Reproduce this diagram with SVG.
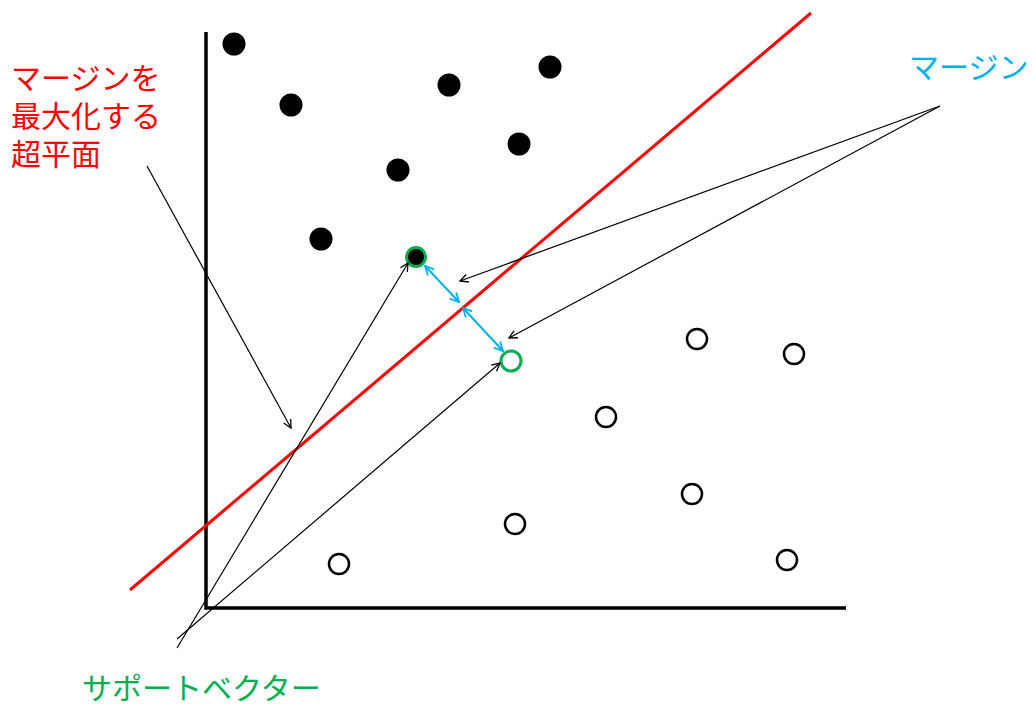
<svg xmlns="http://www.w3.org/2000/svg" width="1032" height="706" viewBox="0 0 1032 706">
<defs>
<marker id="ah" viewBox="0 0 10 10" refX="9" refY="5" markerWidth="10" markerHeight="10" markerUnits="userSpaceOnUse" orient="auto"><path d="M1,1 L9,5 L1,9" fill="none" stroke="#000" stroke-width="1.3"/></marker>
<marker id="bh" viewBox="0 0 10 10" refX="9" refY="5" markerWidth="11" markerHeight="11" markerUnits="userSpaceOnUse" orient="auto-start-reverse"><path d="M1,1 L9,5 L1,9" fill="none" stroke="#00B0F0" stroke-width="1.6"/></marker>
</defs>
<style>
.t{font-family:"Noto Sans CJK JP","Noto Sans",sans-serif;font-size:30px}
.f{fill:#000;stroke:#000;stroke-width:2}
.o{fill:#fff;stroke:#000;stroke-width:2.5}
.c{stroke:#000;stroke-width:1.2;fill:none;marker-end:url(#ah)}
.b{stroke:#00B0F0;stroke-width:2;fill:none;marker-start:url(#bh);marker-end:url(#bh)}
</style>
<rect width="1032" height="706" fill="#fff"/>
<g id="axes" stroke="#000" stroke-width="3.5" fill="none">
<polyline points="206,32 206,608 846,608"/>
</g>
<g id="hyperplane"><line x1="130" y1="590" x2="811" y2="13" stroke="#FF0000" stroke-width="3"/></g>
<g id="filled">
<circle class="f" cx="234" cy="44" r="10.5"/>
<circle class="f" cx="291" cy="105" r="10.5"/>
<circle class="f" cx="449" cy="85" r="10.5"/>
<circle class="f" cx="550" cy="67" r="10.5"/>
<circle class="f" cx="398" cy="170" r="10.5"/>
<circle class="f" cx="519" cy="144" r="10.5"/>
<circle class="f" cx="321" cy="239" r="10.5"/>
</g>
<g id="sv1"><circle cx="416" cy="257" r="9.5" fill="#000" stroke="#00B050" stroke-width="3"/></g>
<g id="open">
<circle class="o" cx="697" cy="339" r="10"/>
<circle class="o" cx="794" cy="354" r="10"/>
<circle class="o" cx="606" cy="417" r="10"/>
<circle class="o" cx="692" cy="494" r="10"/>
<circle class="o" cx="515" cy="524" r="10"/>
<circle class="o" cx="339" cy="564" r="10"/>
<circle class="o" cx="787" cy="560" r="10"/>
</g>
<g id="sv2"><circle cx="511" cy="361" r="10" fill="#fff" stroke="#00B050" stroke-width="3"/></g>
<g id="connectors">
<line class="b" x1="425" y1="266" x2="459" y2="302"/>
<line class="b" x1="463" y1="308" x2="503" y2="351"/>
<line class="c" x1="940" y1="106" x2="460" y2="281"/>
<line class="c" x1="940" y1="106" x2="509" y2="338"/>
<line class="c" x1="177" y1="648" x2="408" y2="263"/>
<line class="c" x1="177" y1="639" x2="500" y2="363"/>
<line class="c" x1="147" y1="166" x2="291" y2="428"/>
</g>
<g id="label-hyperplane" class="t" fill="#FF0000">
<text x="11" y="89">マージンを</text>
<text x="11" y="127">最大化する</text>
<text x="11" y="165">超平面</text>
</g>
<g id="label-margin"><text class="t" x="909" y="78" fill="#00B0F0">マージン</text></g>
<g id="label-sv"><text class="t" x="82" y="699" fill="#00B050">サポートベクター</text></g>
</svg>
